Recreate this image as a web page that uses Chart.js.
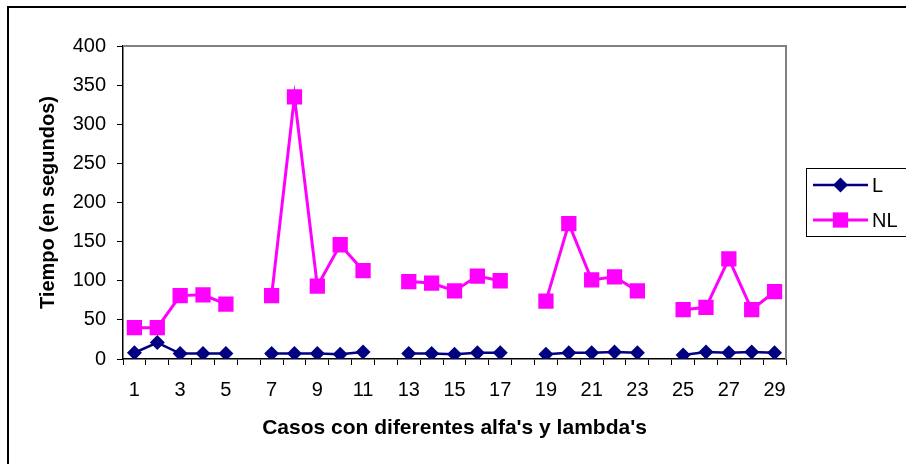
<!DOCTYPE html>
<html>
<head>
<meta charset="utf-8">
<script src="https://cdn.jsdelivr.net/npm/chart.js@4/dist/chart.umd.min.js"></script>
<style>
  html, body { margin: 0; padding: 0; background: #ffffff; }
  #wrap { width: 906px; height: 464px; position: relative; }
</style>
</head>
<body>
<div id="wrap"><canvas id="c" width="906" height="464"></canvas></div>
<script>
// ---- data ----
const categories = ['1','2','3','4','5','6','7','8','9','10','11','12','13','14','15','16','17','18','19','20','21','22','23','24','25','26','27','28','29'];
const shownTickLabels = ['1','3','5','7','9','11','13','15','17','19','21','23','25','27','29'];
const seriesL  = [8, 21, 7, 7, 7, null, 7, 7, 7, 6, 9, null, 7, 7, 6, 8, 8, null, 6, 8, 8, 9, 8, null, 5, 9, 8, 9, 8];
const seriesNL = [40, 40, 81, 82, 70, null, 81, 335, 93, 146, 113, null, 99, 97, 87, 106, 100, null, 74, 173, 101, 105, 87, null, 63, 66, 128, 63, 86];
const yTicks = [0, 50, 100, 150, 200, 250, 300, 350, 400];
const seriesNames = ['L', 'NL'];
const xTitle = "Casos con diferentes alfa's y lambda's";
const yTitle = 'Tiempo (en segundos)';

const FONT = '"Liberation Sans", Arial, sans-serif';
const colL = '#000080';
const colNL = '#FF00FF';

function drawMarker(ctx, style, x, y, r, color) {
  ctx.save();
  ctx.fillStyle = color;
  ctx.beginPath();
  if (style === 'rectRot') {
    ctx.moveTo(x, y - r);
    ctx.lineTo(x + r, y);
    ctx.lineTo(x, y + r);
    ctx.lineTo(x - r, y);
    ctx.closePath();
  } else {
    const h = r * Math.SQRT1_2;
    ctx.rect(x - h, y - h, 2 * h, 2 * h);
  }
  ctx.fill();
  ctx.restore();
}

const framePlugin = {
  id: 'frame',
  beforeDraw(chart) {
    const ctx = chart.ctx;
    ctx.save();
    ctx.fillStyle = '#ffffff';
    ctx.fillRect(0, 0, chart.width, chart.height);
    ctx.strokeStyle = '#000000';
    ctx.lineWidth = 2;
    ctx.beginPath();
    ctx.moveTo(8, 470);
    ctx.lineTo(8, 7);
    ctx.lineTo(910, 7);
    ctx.stroke();
    ctx.restore();
  },
  beforeDatasetsDraw(chart) {
    const a = chart.chartArea;
    const ctx = chart.ctx;
    ctx.save();
    ctx.strokeStyle = '#808080';
    ctx.lineWidth = 2;
    ctx.beginPath();
    ctx.moveTo(a.left, a.top);
    ctx.lineTo(a.right, a.top);
    ctx.lineTo(a.right, a.bottom);
    ctx.stroke();
    ctx.restore();
  },
  afterDraw(chart) {
    const ctx = chart.ctx;
    ctx.save();
    // legend box
    ctx.strokeStyle = '#000000';
    ctx.lineWidth = 1;
    ctx.strokeRect(806.5, 168.5, 110, 68);
    const ds = chart.data.datasets;
    const rows = [185, 220];
    ds.forEach((d, i) => {
      const y = rows[i];
      ctx.strokeStyle = d.borderColor;
      ctx.lineWidth = d.borderWidth;
      ctx.beginPath();
      ctx.moveTo(813, y);
      ctx.lineTo(868, y);
      ctx.stroke();
      drawMarker(ctx, d.pointStyle, 840.5, y, d.pointRadius, d.pointBackgroundColor);
      ctx.fillStyle = '#000000';
      ctx.font = '20px ' + FONT;
      ctx.textBaseline = 'middle';
      ctx.textAlign = 'left';
      ctx.fillText(d.label, 872, y + 1);
    });
    ctx.restore();
  }
};

new Chart(document.getElementById('c'), {
  type: 'line',
  data: {
    labels: categories,
    datasets: [
      {
        label: seriesNames[0],
        data: seriesL,
        borderColor: colL,
        backgroundColor: colL,
        pointBackgroundColor: colL,
        pointBorderColor: colL,
        borderWidth: 2.5,
        pointStyle: 'rectRot',
        pointRadius: 7.5,
        pointBorderWidth: 0,
        spanGaps: false,
        tension: 0
      },
      {
        label: seriesNames[1],
        data: seriesNL,
        borderColor: colNL,
        backgroundColor: colNL,
        pointBackgroundColor: colNL,
        pointBorderColor: colNL,
        borderWidth: 3,
        pointStyle: 'rect',
        pointRadius: 10.8,
        pointBorderWidth: 0,
        spanGaps: false,
        tension: 0
      }
    ]
  },
  options: {
    responsive: false,
    animation: false,
    devicePixelRatio: 1,
    layout: { padding: { left: 0, top: 46, right: 120, bottom: 0 } },
    plugins: {
      legend: { display: false },
      tooltip: { enabled: false }
    },
    scales: {
      x: {
        type: 'category',
        offset: true,
        afterFit(scale) { scale.height = 105; },
        grid: {
          offset: true,
          drawOnChartArea: false,
          drawTicks: true,
          tickLength: 6,
          color: '#000000',
          lineWidth: 1
        },
        border: { display: true, color: '#000000', width: 1.5 },
        ticks: {
          autoSkip: false,
          maxRotation: 0,
          padding: 13,
          color: '#000000',
          font: { family: FONT, size: 20 },
          callback(value, index) {
            const lab = categories[index];
            return shownTickLabels.includes(lab) ? lab : '';
          }
        },
        title: {
          display: true,
          text: xTitle,
          color: '#000000',
          font: { family: FONT, size: 21, weight: 'bold' },
          padding: { top: 23, bottom: 23 }
        }
      },
      y: {
        min: 0,
        max: 400,
        afterFit(scale) { scale.width = 123; },
        afterBuildTicks(scale) { scale.ticks = yTicks.map(v => ({ value: v })); },
        grid: {
          drawOnChartArea: false,
          drawTicks: true,
          tickLength: 6,
          color: '#000000',
          lineWidth: 1
        },
        border: { display: true, color: '#000000', width: 1.5 },
        ticks: {
          padding: 11,
          color: '#000000',
          font: { family: FONT, size: 20 }
        },
        title: {
          display: true,
          text: yTitle,
          color: '#000000',
          font: { family: FONT, size: 20, weight: 'bold' },
          padding: { top: 36, bottom: 36 }
        }
      }
    }
  },
  plugins: [framePlugin]
});
</script>
</body>
</html>
